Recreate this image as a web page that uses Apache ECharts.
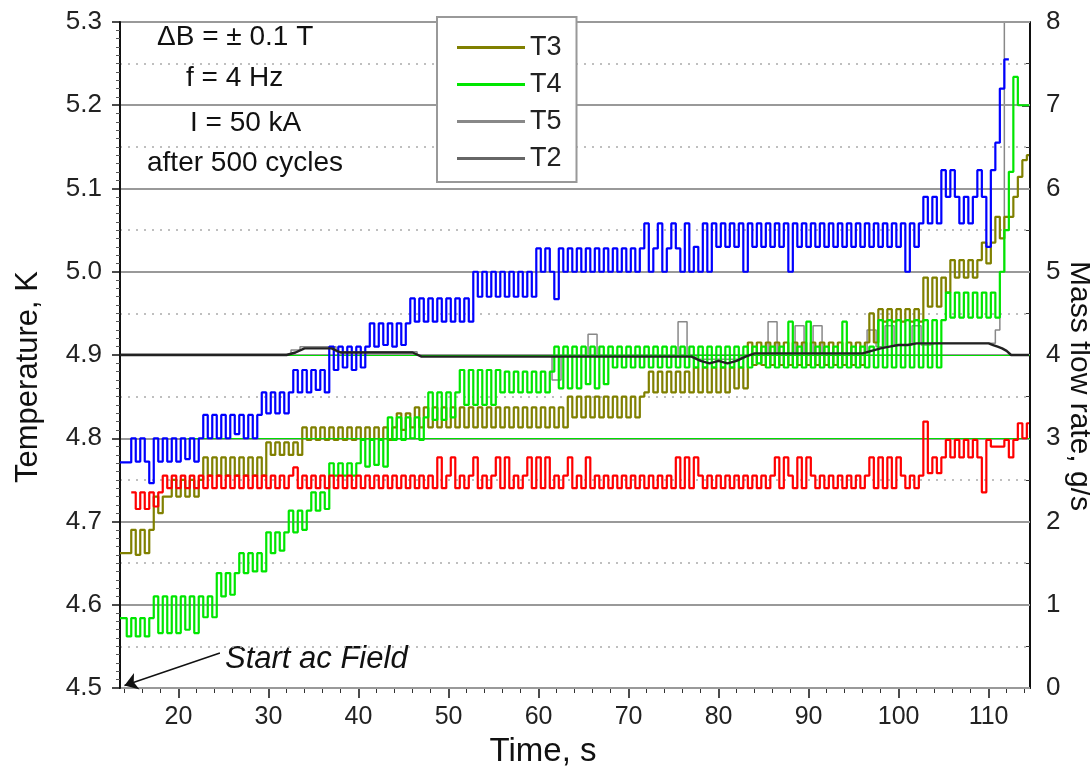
<!DOCTYPE html>
<html>

<head>
    <meta charset="utf-8">
    <title>Temperature and mass flow after 500 cycles</title>
    <style>
        html, body { margin: 0; padding: 0; background: #fff; }
    </style>
</head>

<body>
    <div id="main" style="width: 1090px;height:774px;"></div>
    <script src="https://cdn.jsdelivr.net/npm/echarts@6/dist/echarts.min.js" charset="utf-8"></script>
    <script>
    // sample times, s (0.5 s steps) for the flickering traces
    var times = [13.5,
        14, 14.5, 15, 15.5, 16, 16.5, 17, 17.5, 18, 18.5,
        19, 19.5, 20, 20.5, 21, 21.5, 22, 22.5, 23, 23.5,
        24, 24.5, 25, 25.5, 26, 26.5, 27, 27.5, 28, 28.5,
        29, 29.5, 30, 30.5, 31, 31.5, 32, 32.5, 33, 33.5,
        34, 34.5, 35, 35.5, 36, 36.5, 37, 37.5, 38, 38.5,
        39, 39.5, 40, 40.5, 41, 41.5, 42, 42.5, 43, 43.5,
        44, 44.5, 45, 45.5, 46, 46.5, 47, 47.5, 48, 48.5,
        49, 49.5, 50, 50.5, 51, 51.5, 52, 52.5, 53, 53.5,
        54, 54.5, 55, 55.5, 56, 56.5, 57, 57.5, 58, 58.5,
        59, 59.5, 60, 60.5, 61, 61.5, 62, 62.5, 63, 63.5,
        64, 64.5, 65, 65.5, 66, 66.5, 67, 67.5, 68, 68.5,
        69, 69.5, 70, 70.5, 71, 71.5, 72, 72.5, 73, 73.5,
        74, 74.5, 75, 75.5, 76, 76.5, 77, 77.5, 78, 78.5,
        79, 79.5, 80, 80.5, 81, 81.5, 82, 82.5, 83, 83.5,
        84, 84.5, 85, 85.5, 86, 86.5, 87, 87.5, 88, 88.5,
        89, 89.5, 90, 90.5, 91, 91.5, 92, 92.5, 93, 93.5,
        94, 94.5, 95, 95.5, 96, 96.5, 97, 97.5, 98, 98.5,
        99, 99.5, 100, 100.5, 101, 101.5, 102, 102.5, 103, 103.5,
        104, 104.5, 105, 105.5, 106, 106.5, 107, 107.5, 108, 108.5,
        109, 109.5, 110, 110.5, 111, 111.5, 112, 112.5, 113, 113.5,
        114, 114.5];

    // blue trace (not in legend)
    var blue = [4.771,
        4.771, 4.771, 4.80, 4.772, 4.80, 4.772, 4.746, 4.80, 4.772, 4.80,
        4.772, 4.80, 4.772, 4.80, 4.775, 4.80, 4.772, 4.80, 4.828, 4.80,
        4.828, 4.80, 4.828, 4.80, 4.828, 4.805, 4.828, 4.80, 4.828, 4.80,
        4.828, 4.855, 4.83, 4.855, 4.83, 4.855, 4.83, 4.855, 4.882, 4.855,
        4.882, 4.855, 4.882, 4.858, 4.882, 4.855, 4.91, 4.882, 4.91, 4.885,
        4.91, 4.882, 4.91, 4.885, 4.91, 4.938, 4.91, 4.938, 4.912, 4.938,
        4.91, 4.938, 4.912, 4.938, 4.968, 4.94, 4.968, 4.94, 4.968, 4.94,
        4.968, 4.94, 4.968, 4.94, 4.968, 4.94, 4.968, 4.94, 5.0, 4.97,
        5.0, 4.97, 5.0, 4.97, 5.0, 4.97, 5.0, 4.97, 5.0, 4.97,
        5.0, 4.97, 5.028, 5.0, 5.028, 5.0, 4.967, 5.028, 5.0, 5.028,
        5.0, 5.028, 5.0, 5.028, 5.0, 5.028, 5.0, 5.028, 5.0, 5.028,
        5.0, 5.028, 5.0, 5.028, 5.0, 5.028, 5.058, 5.0, 5.028, 5.058,
        5.0, 5.028, 5.058, 5.028, 5.0, 5.058, 5.0, 5.03, 5.0, 5.058,
        5.0, 5.058, 5.03, 5.058, 5.03, 5.058, 5.03, 5.058, 5.0, 5.058,
        5.03, 5.058, 5.03, 5.058, 5.03, 5.058, 5.03, 5.058, 5.0, 5.058,
        5.03, 5.058, 5.03, 5.058, 5.03, 5.058, 5.03, 5.058, 5.03, 5.058,
        5.03, 5.058, 5.03, 5.058, 5.03, 5.058, 5.03, 5.058, 5.03, 5.058,
        5.03, 5.058, 5.03, 5.058, 5.0, 5.058, 5.03, 5.058, 5.09, 5.058,
        5.09, 5.058, 5.122, 5.09, 5.122, 5.09, 5.058, 5.09, 5.058, 5.09,
        5.122, 5.09, 5.03, 5.122, 5.155, 5.22, 5.255, null, null, null,
        null, null];

    // red trace (not in legend)
    var red = [null,
        null, null, 4.735, 4.715, 4.735, 4.715, 4.735, 4.718, 4.735, 4.755,
        4.74, 4.755, 4.74, 4.755, 4.74, 4.755, 4.74, 4.755, 4.74, 4.755,
        4.74, 4.755, 4.74, 4.755, 4.74, 4.755, 4.74, 4.755, 4.74, 4.755,
        4.74, 4.755, 4.74, 4.755, 4.74, 4.755, 4.74, 4.755, 4.765, 4.74,
        4.755, 4.74, 4.755, 4.74, 4.755, 4.74, 4.755, 4.74, 4.755, 4.74,
        4.755, 4.74, 4.755, 4.74, 4.755, 4.74, 4.755, 4.74, 4.755, 4.74,
        4.755, 4.74, 4.755, 4.74, 4.755, 4.74, 4.755, 4.74, 4.755, 4.74,
        4.777, 4.74, 4.755, 4.777, 4.74, 4.755, 4.74, 4.755, 4.777, 4.74,
        4.755, 4.74, 4.755, 4.777, 4.74, 4.777, 4.74, 4.755, 4.74, 4.755,
        4.777, 4.74, 4.777, 4.74, 4.777, 4.74, 4.755, 4.74, 4.755, 4.777,
        4.74, 4.755, 4.74, 4.777, 4.74, 4.755, 4.74, 4.755, 4.74, 4.755,
        4.74, 4.755, 4.74, 4.755, 4.74, 4.755, 4.74, 4.755, 4.74, 4.755,
        4.74, 4.755, 4.74, 4.777, 4.74, 4.777, 4.74, 4.777, 4.755, 4.74,
        4.755, 4.74, 4.755, 4.74, 4.755, 4.74, 4.755, 4.74, 4.755, 4.74,
        4.755, 4.74, 4.755, 4.74, 4.755, 4.777, 4.74, 4.777, 4.755, 4.74,
        4.777, 4.74, 4.777, 4.755, 4.74, 4.755, 4.74, 4.755, 4.74, 4.755,
        4.74, 4.755, 4.74, 4.755, 4.74, 4.755, 4.777, 4.74, 4.777, 4.74,
        4.777, 4.74, 4.777, 4.755, 4.74, 4.755, 4.74, 4.755, 4.82, 4.758,
        4.777, 4.758, 4.777, 4.798, 4.777, 4.798, 4.777, 4.798, 4.777, 4.798,
        4.777, 4.735, 4.798, 4.79, 4.79, 4.79, 4.798, 4.777, 4.798, 4.818,
        4.80, 4.818];

    var t3 = [4.662,
        4.662, 4.662, 4.69, 4.66, 4.69, 4.662, 4.69, 4.73, 4.71, 4.73,
        4.73, 4.75, 4.73, 4.75, 4.73, 4.75, 4.73, 4.75, 4.777, 4.755,
        4.777, 4.755, 4.777, 4.755, 4.777, 4.755, 4.777, 4.755, 4.777, 4.755,
        4.777, 4.755, 4.795, 4.78, 4.795, 4.78, 4.795, 4.78, 4.795, 4.78,
        4.813, 4.798, 4.813, 4.798, 4.813, 4.798, 4.813, 4.798, 4.813, 4.798,
        4.813, 4.798, 4.813, 4.798, 4.813, 4.798, 4.813, 4.798, 4.813, 4.798,
        4.813, 4.83, 4.81, 4.83, 4.813, 4.837, 4.813, 4.837, 4.813, 4.837,
        4.813, 4.837, 4.813, 4.837, 4.813, 4.837, 4.813, 4.837, 4.813, 4.837,
        4.813, 4.837, 4.813, 4.837, 4.813, 4.837, 4.813, 4.837, 4.813, 4.837,
        4.813, 4.837, 4.813, 4.837, 4.813, 4.837, 4.813, 4.837, 4.813, 4.85,
        4.825, 4.85, 4.825, 4.85, 4.825, 4.85, 4.825, 4.85, 4.825, 4.85,
        4.825, 4.85, 4.825, 4.85, 4.825, 4.85, 4.855, 4.88, 4.855, 4.88,
        4.855, 4.88, 4.855, 4.88, 4.855, 4.88, 4.855, 4.885, 4.855, 4.885,
        4.855, 4.885, 4.855, 4.885, 4.855, 4.885, 4.86, 4.885, 4.86, 4.915,
        4.888, 4.915, 4.888, 4.915, 4.888, 4.915, 4.888, 4.915, 4.888, 4.915,
        4.888, 4.915, 4.888, 4.915, 4.888, 4.915, 4.888, 4.915, 4.888, 4.915,
        4.888, 4.915, 4.888, 4.915, 4.888, 4.915, 4.95, 4.915, 4.955, 4.94,
        4.955, 4.94, 4.955, 4.94, 4.955, 4.94, 4.955, 4.94, 4.993, 4.958,
        4.993, 4.958, 4.993, 4.975, 5.014, 4.993, 5.014, 4.993, 5.014, 4.993,
        5.014, 5.035, 5.01, 5.035, 5.066, 5.04, 5.066, 5.066, 5.09, 5.114,
        5.134, 5.14];

    var t4 = [4.584,
        4.584, 4.562, 4.584, 4.562, 4.584, 4.562, 4.584, 4.61, 4.566, 4.61,
        4.566, 4.61, 4.566, 4.61, 4.57, 4.61, 4.566, 4.61, 4.585, 4.61,
        4.585, 4.638, 4.61, 4.638, 4.612, 4.638, 4.662, 4.638, 4.662, 4.64,
        4.662, 4.64, 4.687, 4.662, 4.687, 4.665, 4.687, 4.713, 4.687, 4.713,
        4.69, 4.713, 4.735, 4.713, 4.735, 4.715, 4.77, 4.755, 4.77, 4.755,
        4.77, 4.755, 4.77, 4.798, 4.766, 4.798, 4.768, 4.798, 4.766, 4.825,
        4.798, 4.825, 4.798, 4.825, 4.80, 4.825, 4.798, 4.825, 4.855, 4.822,
        4.855, 4.822, 4.855, 4.825, 4.855, 4.882, 4.84, 4.882, 4.84, 4.882,
        4.84, 4.882, 4.84, 4.882, 4.855, 4.88, 4.855, 4.88, 4.855, 4.88,
        4.855, 4.88, 4.855, 4.88, 4.855, 4.88, 4.91, 4.86, 4.91, 4.86,
        4.91, 4.86, 4.91, 4.865, 4.91, 4.86, 4.91, 4.865, 4.91, 4.885,
        4.91, 4.885, 4.91, 4.885, 4.91, 4.885, 4.91, 4.885, 4.91, 4.885,
        4.91, 4.885, 4.91, 4.885, 4.91, 4.885, 4.91, 4.885, 4.91, 4.885,
        4.91, 4.885, 4.91, 4.885, 4.91, 4.885, 4.91, 4.885, 4.91, 4.885,
        4.91, 4.89, 4.91, 4.885, 4.91, 4.885, 4.91, 4.885, 4.94, 4.885,
        4.91, 4.885, 4.94, 4.885, 4.91, 4.885, 4.91, 4.885, 4.91, 4.885,
        4.94, 4.885, 4.91, 4.885, 4.91, 4.885, 4.91, 4.885, 4.942, 4.885,
        4.942, 4.885, 4.942, 4.885, 4.942, 4.885, 4.942, 4.885, 4.942, 4.885,
        4.942, 4.885, 4.942, 4.975, 4.945, 4.975, 4.945, 4.975, 4.945, 4.975,
        4.945, 4.975, 4.945, 4.975, 4.945, 5.0, 5.05, 5.12, 5.234, 5.2,
        5.2, 5.2];

    // slow traces, 1 s steps
    var timesCoarse = [13.5,
        14, 15, 16, 17, 18, 19, 20, 21, 22, 23,
        24, 25, 26, 27, 28, 29, 30, 31, 32, 33,
        34, 35, 36, 37, 38, 39, 40, 41, 42, 43,
        44, 45, 46, 47, 48, 49, 50, 51, 52, 53,
        54, 55, 56, 57, 58, 59, 60, 61, 62, 63,
        64, 65, 66, 67, 68, 69, 70, 71, 72, 73,
        74, 75, 76, 77, 78, 79, 80, 81, 82, 83,
        84, 85, 86, 87, 88, 89, 90, 91, 92, 93,
        94, 95, 96, 97, 98, 99, 100, 101, 102, 103,
        104, 105, 106, 107, 108, 109, 110,
        110.5, 111, 111.5, 112, 112.5, 113, 113.5, 114, 114.5];

    var t5 = [4.901,
        4.901, 4.901, 4.901, 4.901, 4.901, 4.901, 4.901, 4.901, 4.901, 4.901,
        4.901, 4.901, 4.901, 4.901, 4.901, 4.901, 4.901, 4.901, 4.901, 4.906,
        4.91, 4.91, 4.91, 4.91, 4.904, 4.904, 4.904, 4.904, 4.904, 4.904,
        4.904, 4.904, 4.904, 4.9, 4.9, 4.9, 4.9, 4.9, 4.9, 4.9,
        4.9, 4.9, 4.9, 4.9, 4.9, 4.9, 4.9, 4.9, 4.87, 4.9,
        4.9, 4.9, 4.925, 4.9, 4.9, 4.9, 4.9, 4.9, 4.9, 4.9,
        4.9, 4.9, 4.94, 4.9, 4.895, 4.895, 4.895, 4.895, 4.895, 4.9,
        4.9, 4.9, 4.94, 4.9, 4.9, 4.935, 4.9, 4.935, 4.9, 4.9,
        4.9, 4.9, 4.9, 4.93, 4.91, 4.935, 4.912, 4.912, 4.935, 4.912,
        4.914, 4.914, 4.914, 4.914, 4.914, 4.914, 4.914,
        4.914, 4.93, 5.0, 5.3, 5.3, 5.3, 5.3, 5.3, 5.3];

    var t2 = [4.9,
        4.9, 4.9, 4.9, 4.9, 4.9, 4.9, 4.9, 4.9, 4.9, 4.9,
        4.9, 4.9, 4.9, 4.9, 4.9, 4.9, 4.9, 4.9, 4.9, 4.903,
        4.908, 4.908, 4.908, 4.908, 4.903, 4.903, 4.903, 4.903, 4.903, 4.903,
        4.903, 4.903, 4.903, 4.898, 4.898, 4.898, 4.898, 4.898, 4.898, 4.898,
        4.898, 4.898, 4.898, 4.898, 4.898, 4.898, 4.898, 4.898, 4.898, 4.898,
        4.898, 4.898, 4.898, 4.898, 4.898, 4.898, 4.898, 4.898, 4.898, 4.898,
        4.898, 4.898, 4.898, 4.898, 4.893, 4.89, 4.893, 4.89, 4.893, 4.898,
        4.902, 4.902, 4.902, 4.902, 4.902, 4.902, 4.902, 4.902, 4.902, 4.902,
        4.902, 4.902, 4.902, 4.905, 4.908, 4.91, 4.912, 4.912, 4.914, 4.914,
        4.914, 4.914, 4.914, 4.914, 4.914, 4.914, 4.914,
        4.912, 4.91, 4.908, 4.905, 4.9, 4.9, 4.9, 4.9, 4.9];

    // axis ticks
    var timeTicks = [20, 30, 40, 50, 60, 70, 80, 90, 100, 110];
    var timeMinorTicks = [14, 16, 18, 22, 24, 26, 28, 32, 34, 36, 38, 42, 44, 46, 48,
        52, 54, 56, 58, 62, 64, 66, 68, 72, 74, 76, 78, 82, 84, 86, 88,
        92, 94, 96, 98, 102, 104, 106, 108, 112, 114];

    function pairs(ts, vals) {
        return ts.map(function(t, i) { return [t, vals[i]]; });
    }

    var FONT = '"Liberation Sans", Arial, sans-serif';
    var myChart = echarts.init(document.getElementById('main'));

    var option = {
        backgroundColor: '#fff',
        animation: false,
        grid: { left: 120, right: 60, top: 22, bottom: 86, outerBoundsMode: 'none' },
        legend: {
            data: ['T3', 'T4', 'T5', 'T2'],
            orient: 'vertical',
            left: 437,
            top: 17,
            padding: [17, 15, 10, 20],
            icon: 'rect',
            itemWidth: 68,
            itemHeight: 3,
            itemGap: 10,
            backgroundColor: '#fff',
            borderColor: '#999',
            borderWidth: 2,
            borderRadius: 0,
            textStyle: { fontFamily: FONT, fontSize: 27, color: '#222' }
        },
        xAxis: [{
            type: 'value',
            min: 13.5,
            max: 114.6,
            name: 'Time, s',
            nameLocation: 'middle',
            nameGap: 47,
            nameTextStyle: { fontFamily: FONT, fontSize: 33, color: '#111', padding: [0, 64, 0, 0] },
            axisLine: { lineStyle: { color: '#111', width: 2 } },
            axisTick: { customValues: timeTicks, length: 10, lineStyle: { color: '#111', width: 1.5 } },
            axisLabel: { customValues: timeTicks, fontFamily: FONT, fontSize: 25, color: '#222', margin: 17 },
            splitLine: { show: false }
        }, {
            type: 'value',
            min: 13.5,
            max: 114.6,
            position: 'bottom',
            axisLine: { show: false },
            axisTick: { customValues: timeMinorTicks, length: 5, lineStyle: { color: '#333', width: 1 } },
            axisLabel: { show: false },
            splitLine: { show: false }
        }],
        yAxis: [{
            type: 'value',
            min: 4.5,
            max: 5.3,
            interval: 0.1,
            z: 3,
            name: 'Temperature, K',
            nameLocation: 'middle',
            nameGap: 76,
            nameTextStyle: { fontFamily: FONT, fontSize: 31, color: '#111', padding: [0, 44, 0, 0] },
            axisLine: { show: true, lineStyle: { color: '#111', width: 2 } },
            axisTick: { show: true, length: 8, lineStyle: { color: '#111', width: 1.5 } },
            minorTick: { show: true, splitNumber: 10, length: 4, lineStyle: { color: '#555' } },
            axisLabel: {
                fontFamily: FONT, fontSize: 26, color: '#222', margin: 18,
                formatter: function(v) { return v.toFixed(1); }
            },
            splitLine: { show: true, lineStyle: { color: '#999', width: 1.8 } }
        }, {
            type: 'value',
            min: 4.5,
            max: 5.3,
            interval: 0.05,
            z: 0,
            position: 'left',
            axisLine: { show: false },
            axisTick: { show: false },
            axisLabel: { show: false },
            splitLine: { show: true, lineStyle: { color: '#aaa', width: 1.5, type: [2, 6] } }
        }, {
            type: 'value',
            min: 0,
            max: 8,
            interval: 1,
            position: 'right',
            axisLine: { show: true, lineStyle: { color: '#111', width: 2 } },
            axisTick: { show: true, inside: true, length: 8, lineStyle: { color: '#111', width: 1.5 } },
            minorTick: { show: true, splitNumber: 2, length: 4, lineStyle: { color: '#333' } },
            axisLabel: { fontFamily: FONT, fontSize: 26, color: '#222', margin: 16 },
            splitLine: { show: false }
        }],
        series: [{
            name: 'T5',
            type: 'line',
            symbol: 'none',
            step: 'middle',
            data: pairs(timesCoarse, t5),
            lineStyle: { color: '#888', width: 1.5 },
            itemStyle: { color: '#888' },
            z: 2
        }, {
            name: 'T3',
            type: 'line',
            symbol: 'none',
            step: 'middle',
            data: pairs(times, t3),
            lineStyle: { color: '#808000', width: 2.2 },
            itemStyle: { color: '#808000' },
            z: 3
        }, {
            name: 'T4',
            type: 'line',
            symbol: 'none',
            step: 'middle',
            data: pairs(times, t4),
            lineStyle: { color: '#00e600', width: 2.2 },
            itemStyle: { color: '#00e600' },
            z: 4,
            markLine: {
                silent: true,
                symbol: 'none',
                label: { show: false },
                lineStyle: { color: '#00dd00', width: 1.2, type: 'solid' },
                data: [
                    [{ coord: [21, 4.8] }, { coord: [114.6, 4.8] }],
                    [{ coord: [21, 4.9] }, { coord: [114.6, 4.9] }]
                ]
            }
        }, {
            name: 'Red',
            type: 'line',
            symbol: 'none',
            step: 'middle',
            data: pairs(times, red),
            lineStyle: { color: '#ff0000', width: 2.2 },
            itemStyle: { color: '#ff0000' },
            z: 5
        }, {
            name: 'Blue',
            type: 'line',
            symbol: 'none',
            step: 'middle',
            data: pairs(times, blue),
            lineStyle: { color: '#0000ff', width: 2.2 },
            itemStyle: { color: '#0000ff' },
            z: 6
        }, {
            name: 'T2',
            type: 'line',
            symbol: 'none',
            data: pairs(timesCoarse, t2),
            lineStyle: { color: '#222', width: 2.4 },
            itemStyle: { color: '#666' },
            z: 7,
            markLine: {
                silent: true,
                symbol: ['none', 'arrow'],
                symbolSize: 13,
                label: { show: false },
                lineStyle: { color: '#111', width: 1.5, type: 'solid' },
                data: [
                    [{ coord: [24.6, 4.542] }, { coord: [14.0, 4.503] }]
                ]
            }
        }],
        graphic: [
            { type: 'text', left: 157, top: 23, style: { text: '\u0394B = \u00b1 0.1 T', fontFamily: FONT, fontSize: 28, fill: '#111' } },
            { type: 'text', left: 186, top: 64, style: { text: 'f = 4 Hz', fontFamily: FONT, fontSize: 28, fill: '#111' } },
            { type: 'text', left: 190, top: 109, style: { text: 'I = 50 kA', fontFamily: FONT, fontSize: 28, fill: '#111' } },
            { type: 'text', left: 147, top: 149, style: { text: 'after 500 cycles', fontFamily: FONT, fontSize: 28, fill: '#111' } },
            { type: 'text', left: 225, top: 644, style: { text: 'Start ac Field', fontFamily: FONT, fontSize: 31, fontStyle: 'italic', fill: '#111' } },
            // right axis title, reads top to bottom
            {
                type: 'text', x: 1079, y: 386, rotation: -Math.PI / 2,
                style: { text: 'Mass flow rate, g/s', fontFamily: FONT, fontSize: 30, fill: '#111', align: 'center', verticalAlign: 'middle' }
            }
        ]
    };
    myChart.setOption(option);
    </script>
</body>

</html>
